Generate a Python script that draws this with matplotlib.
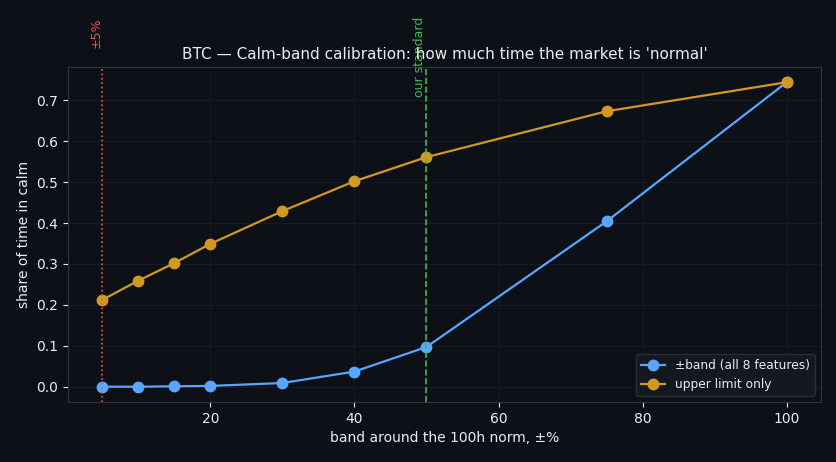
import matplotlib
matplotlib.use("Agg")
import matplotlib.pyplot as plt
import matplotlib.transforms as mtransforms

# band widths (±%) and share of time in calm
bands = [5, 10, 15, 20, 30, 40, 50, 75, 100]
calm_both = [0.000, 0.000, 0.001, 0.002, 0.009, 0.037, 0.097, 0.404, 0.744]
calm_upper = [0.212, 0.259, 0.302, 0.349, 0.429, 0.502, 0.561, 0.673, 0.744]

BG = "#0d1117"
FG = "#e6edf3"
GRID = "#161b22"
EDGE = "#30363d"

fig = plt.figure(figsize=(8.36, 4.62), dpi=100, facecolor=BG)
ax = fig.add_axes([0.0813, 0.130, 0.9007, 0.725])
ax.set_facecolor(BG)

ax.plot(bands, calm_both, "-o", color="#58a6ff", lw=1.6, ms=7.5,
        label="±band (all 8 features)")
ax.plot(bands, calm_upper, "-o", color="#d29922", lw=1.6, ms=7.5,
        label="upper limit only")

ax.axvline(5, color="#f85149", ls=":", lw=1.2)
ax.axvline(50, color="#3fb950", ls="--", lw=1.2)

tr = mtransforms.blended_transform_factory(ax.transData, ax.transAxes)
ax.text(5.0, 1.057, "±5%", transform=tr, rotation=90, ha="right", va="bottom",
        color="#f85149", fontsize=9, clip_on=False)
ax.text(50.0, 0.91, "our standard", transform=tr, rotation=90, ha="right",
        va="bottom", color="#3fb950", fontsize=9, clip_on=False)

ax.set_title("BTC — Calm-band calibration: how much time the market is 'normal'",
             color=FG, fontsize=11)
ax.set_xlabel("band around the 100h norm, ±%", color=FG, fontsize=10)
ax.set_ylabel("share of time in calm", color=FG, fontsize=10)

ax.grid(True, color=GRID, lw=0.8)
ax.set_axisbelow(True)
for s in ax.spines.values():
    s.set_color(EDGE)
ax.tick_params(colors=FG, labelsize=10)

leg = ax.legend(loc="lower right", facecolor="#161b22", edgecolor=EDGE,
                fontsize=8.8)
for t in leg.get_texts():
    t.set_color(FG)

fig.savefig("out.png", dpi=100, facecolor=BG)
